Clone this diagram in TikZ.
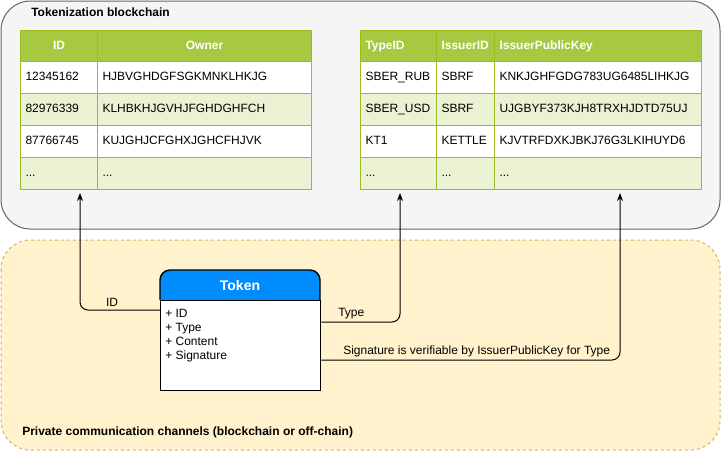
\documentclass[tikz,border=0pt]{standalone}
\usepackage{fontspec}
\setmainfont{Liberation Sans}
\usetikzlibrary{arrows.meta, positioning}

\definecolor{chainfill}{HTML}{F5F5F5}
\definecolor{chainline}{HTML}{666666}
\definecolor{chanfill}{HTML}{FFF2CC}
\definecolor{chanline}{HTML}{D6B656}
\definecolor{thead}{HTML}{A7C942}
\definecolor{tborder}{HTML}{98BF21}
\definecolor{rowfill0}{HTML}{EAF2D3}
\definecolor{rowfill1}{HTML}{FFFFFF}
\definecolor{tokblue}{HTML}{008CFF}
\newcommand\more{...}

\begin{document}
\begin{tikzpicture}[x=0.75pt, y=-0.75pt, font=\fontsize{9}{11}\selectfont,
    cell/.style={draw=tborder, line width=0.75pt, anchor=north west, minimum height=24pt,
      inner xsep=3.75pt, inner ysep=0pt, text height=6.8pt, text depth=1.9pt, align=left},
    hcell/.style={cell, fill=thead, text=white, font=\fontsize{9}{11}\selectfont\bfseries, minimum height=23.25pt},
    title/.style={anchor=west, inner sep=0pt, font=\fontsize{9}{11}\selectfont\bfseries},
    tokline/.style={draw=black, line width=1.1pt},
    link/.style={-{Stealth[length=6pt, width=4.5pt]}, line width=0.75pt, rounded corners=6pt},
    lbl/.style={above, inner sep=2pt}]
  \useasboundingbox (0,0) rectangle (721,451);

  % containers
  \draw[draw=chainline, fill=chainfill, line width=0.75pt, rounded corners=22pt] (1,1) rectangle (720,229);
  \draw[draw=chanline, fill=chanfill, line width=0.75pt, dash pattern=on 2.25pt off 2.25pt, rounded corners=22pt] (1,240) rectangle (720,450);
  \node[title] (chaintitle) at (31,12) {Tokenization blockchain};
  \node[title] (chantitle) at (22,432) {Private communication channels (blockchain or off-chain)};

  % owners table
  \node[hcell, text width=50.25pt, align=center] (own-0-1) at (20,30) {ID};
  \node[hcell, text width=153pt, align=center] (own-0-2) at (97,30) {Owner};
  \foreach \a/\b [count=\i] in {12345162/HJBVGHDGFSGKMNKLHKJG, 82976339/KLHBKHJGVHJFGHDGHFCH,
      87766745/KUJGHJCFGHXJGHCFHJVK, \more/\more} {
    \pgfmathsetmacro\ypos{61+32*(\i-1)}
    \pgfmathtruncatemacro\shade{mod(\i,2)}
    \node[cell, fill=rowfill\shade, text width=50.25pt] (own-\i-1) at (20,\ypos) {\a};
    \node[cell, fill=rowfill\shade, text width=153pt] (own-\i-2) at (97,\ypos) {\b};
  }

  % types table
  \node[hcell, text width=49.5pt] (type-0-1) at (360,30) {TypeID};
  \node[hcell, text width=36pt] (type-0-2) at (436,30) {IssuerID};
  \node[hcell, text width=147.75pt] (type-0-3) at (494,30) {IssuerPublicKey};
  \foreach \a/\b/\c [count=\i] in {SBER\_RUB/SBRF/KNKJGHFGDG783UG6485LIHKJG,
      SBER\_USD/SBRF/UJGBYF373KJH8TRXHJDTD75UJ, KT1/KETTLE/KJVTRFDXKJBKJ76G3LKIHUYD6, \more/\more/\more} {
    \pgfmathsetmacro\ypos{61+32*(\i-1)}
    \pgfmathtruncatemacro\shade{mod(\i,2)}
    \node[cell, fill=rowfill\shade, text width=49.5pt] (type-\i-1) at (360,\ypos) {\a};
    \node[cell, fill=rowfill\shade, text width=36pt] (type-\i-2) at (436,\ypos) {\b};
    \node[cell, fill=rowfill\shade, text width=147.75pt] (type-\i-3) at (494,\ypos) {\c};
  }

  % token
  \draw[tokline, fill=tokblue, rounded corners=7.5pt] (160,300) |- (240,270) -| (320,300);
  \node[text=white, font=\fontsize{10.5}{12}\selectfont\bfseries] (tokhead) at (240,285) {Token};
  \node[tokline, fill=white, anchor=north west, minimum width=120pt, minimum height=67.5pt] (tokbody) at (160,300) {};
  \node[anchor=north west, align=left, inner xsep=3.75pt, inner ysep=7pt,
    font=\fontsize{9}{10.5}\selectfont] (tokattr) at (tokbody.north west) {+ ID\\+ Type\\+ Content\\+ Signature};

  % connectors
  \coordinate (idto) at (80,193);
  \coordinate (typeto) at (400,193);
  \coordinate (keyto) at (620,193);
  \draw[link] ([yshift=-7.5pt]tokbody.north west) -| node[lbl, pos=0.3] {ID} (idto);
  \draw[link] ([yshift=-16.5pt]tokbody.north east) -| node[lbl, pos=0.19] {Type} (typeto);
  \draw[link] ([yshift=-45pt]tokbody.north east) -| node[lbl, pos=0.26] {Signature is verifiable by IssuerPublicKey for Type} (keyto);
\end{tikzpicture}
\end{document}
